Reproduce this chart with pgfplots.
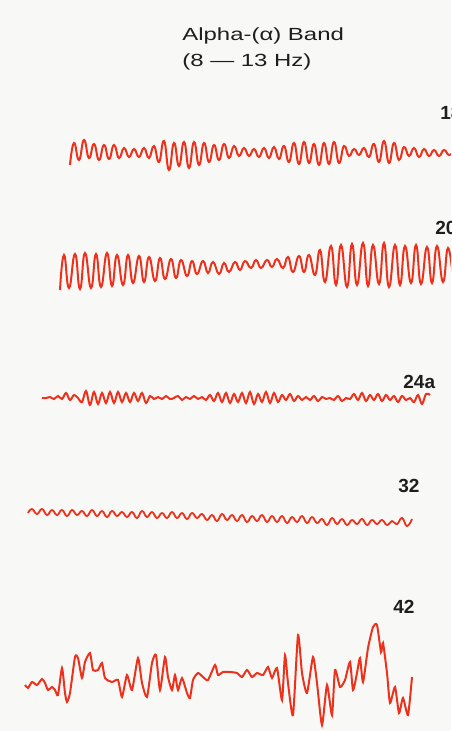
\documentclass[border=0pt]{standalone}
\usepackage{fontspec}
\setmainfont{Liberation Sans}
\usepackage{pgfplots}
\pgfplotsset{compat=1.18}
\definecolor{trace}{RGB}{236,50,28}
\definecolor{ink}{RGB}{30,30,30}
\definecolor{paper}{RGB}{248,248,246}
\begin{document}
\begin{tikzpicture}
\begin{axis}[name=ax, width=225.5pt, height=365.5pt, scale only axis,
  xmin=0, xmax=451, ymin=0, ymax=731, y dir=reverse, hide axis, clip=true]
\fill[paper] (axis cs:0,0) rectangle (axis cs:451,731);
% Trace 18
\addplot[trace, line width=1pt, smooth, tension=0.85] coordinates {
(70,165)(74,143)(79,160)(84,140)(89,158)(94,144)(99,160)(104,145)(109,159)(114,145)
(119,158)(124,148)(129,157)(134,149)(139,157)(144,148)(149,158)(154,146)(159,162)(164,141)
(169,170)(174,143)(179,166)(184,142)(189,168)(194,142)(199,165)(204,143)(209,162)(214,145)
(219,160)(224,144)(229,158)(234,146)(239,156)(244,148)(249,156)(254,149)(259,157)(264,148)
(269,158)(274,147)(279,159)(284,146)(289,162)(294,143)(299,164)(304,142)(309,163)(314,144)
(319,165)(324,143)(329,164)(334,142)(339,163)(344,146)(349,156)(354,149)(359,155)(364,148)
(369,157)(374,144)(379,162)(384,141)(389,163)(394,143)(399,160)(404,147)(409,156)(414,148)
(419,157)(424,149)(429,156)(434,150)(439,156)(444,150)(449,155)(454,151)};
% Trace 20
\addplot[trace, line width=1pt, smooth, tension=0.85] coordinates {
(60,290)(64,255)(69,288)(75,254)(80,289)(85,253)(91,288)(96,254)(101,287)(107,253)
(112,286)(117,255)(123,285)(128,255)(133,283)(139,256)(144,282)(149,257)(155,281)(160,258)
(165,279)(171,259)(176,278)(181,260)(187,276)(192,261)(197,274)(203,261)(208,273)(213,262)
(219,274)(224,263)(229,272)(235,262)(240,270)(245,261)(251,268)(256,260)(261,268)(267,260)
(272,267)(277,259)(283,268)(288,257)(293,272)(299,256)(304,272)(309,255)(315,275)(320,250)
(325,282)(331,246)(336,285)(341,245)(347,287)(352,244)(357,285)(363,243)(368,286)(373,245)
(379,284)(384,243)(389,287)(395,245)(400,285)(405,246)(411,283)(416,245)(421,284)(427,247)
(432,283)(437,246)(443,282)(448,248)(453,280)};
% Trace 24a
\addplot[trace, line width=1pt, smooth, tension=0.6] coordinates {
(42,398)(46,398)(50,397)(54,399)(58,396)(62,399)(66,393)(70,400)(74,395)(78,398)
(82,402)(86,391)(90,405)(94,392)(98,404)(102,393)(106,403)(110,392)(114,403)(118,392)
(122,402)(126,393)(130,402)(134,393)(138,401)(142,393)(146,403)(150,396)(154,399)(158,397)
(162,399)(166,396)(170,399)(174,398)(178,396)(182,400)(186,397)(190,399)(194,396)(198,399)
(202,397)(206,400)(210,395)(214,401)(218,393)(222,402)(226,393)(230,403)(234,394)(238,402)
(242,393)(246,403)(250,392)(254,404)(258,394)(262,402)(266,392)(270,403)(274,393)(278,402)
(282,395)(286,400)(290,394)(294,401)(298,396)(302,400)(306,397)(310,400)(314,396)(318,401)
(322,397)(326,399)(330,398)(334,400)(338,396)(342,401)(346,398)(350,399)(354,394)(358,400)
(362,393)(366,401)(370,395)(374,400)(378,394)(382,401)(386,395)(390,400)(394,396)(398,402)
(402,396)(406,400)(410,398)(414,402)(418,395)(422,404)(426,394)(430,395)};
% Trace 32
\addplot[trace, line width=0.9pt, smooth, tension=0.8] coordinates {
(28,513)(32,509)(37,514)(42,509)(47,515)(52,510)(57,515)(62,510)(67,516)(72,510)
(77,515)(82,511)(87,516)(92,510)(97,516)(102,511)(107,517)(112,511)(117,516)(122,512)
(127,517)(132,512)(137,518)(142,511)(147,517)(152,512)(157,518)(162,513)(167,518)(172,512)
(177,518)(182,513)(187,519)(192,513)(197,518)(202,514)(207,520)(212,515)(217,521)(222,514)
(227,520)(232,515)(237,521)(242,515)(247,522)(252,516)(257,521)(262,515)(267,522)(272,516)
(277,522)(282,516)(287,523)(292,517)(297,522)(302,516)(307,523)(312,517)(317,523)(322,519)
(327,525)(332,518)(337,524)(342,519)(347,525)(352,520)(357,524)(362,519)(367,525)(372,520)
(377,524)(382,520)(387,525)(392,521)(397,524)(402,518)(407,526)(412,519)};
% Trace 42
\addplot[trace, line width=1pt, smooth, tension=0.35] coordinates {
(25,685)(28,688)(32,682)(37,685)(42,679)(45,683)(48,690)(52,687)(55,690)(58,695)
(62,668)(65,693)(67,702)(70,693)(75,657)(78,658)(82,678)(85,662)(90,653)(93,670)
(98,670)(102,663)(105,678)(112,682)(118,680)(122,697)(127,675)(132,690)(138,658)(142,683)
(147,697)(152,663)(156,655)(160,690)(165,657)(168,677)(172,690)(175,675)(178,690)(182,678)
(187,693)(190,698)(193,680)(198,673)(203,677)(208,680)(215,665)(218,675)(223,672)(230,672)
(237,673)(242,677)(247,670)(252,677)(257,673)(263,675)(268,667)(272,678)(277,668)(282,700)
(285,655)(288,683)(293,715)(298,635)(302,673)(307,693)(313,657)(317,683)(322,725)(327,685)
(332,715)(335,670)(340,687)(345,680)(350,662)(353,690)(357,673)(360,658)(363,682)(368,648)
(373,627)(377,625)(381,652)(383,643)(387,673)(390,703)(395,687)(399,713)(403,698)(408,715)
(412,677)};
% Labels
\node[anchor=base west, text=ink, font=\fontsize{8.8pt}{10pt}\selectfont\addfontfeature{FakeStretch=1.36}, inner sep=0pt] at (axis cs:182,41) {Alpha-(α) Band};
\node[anchor=base west, text=ink, font=\fontsize{8.8pt}{10pt}\selectfont\addfontfeature{FakeStretch=1.36}, inner sep=0pt] at (axis cs:182,67) {(8 — 13 Hz)};
\node[anchor=base west, text=ink, font=\fontsize{9.5pt}{11pt}\selectfont\bfseries, inner sep=0pt] at (axis cs:440,120) {18};
\node[anchor=base west, text=ink, font=\fontsize{9.5pt}{11pt}\selectfont\bfseries, inner sep=0pt] at (axis cs:435,235) {20};
\node[anchor=base west, text=ink, font=\fontsize{9.5pt}{11pt}\selectfont\bfseries, inner sep=0pt] at (axis cs:403,388) {24a};
\node[anchor=base west, text=ink, font=\fontsize{9.5pt}{11pt}\selectfont\bfseries, inner sep=0pt] at (axis cs:398,492) {32};
\node[anchor=base west, text=ink, font=\fontsize{9.5pt}{11pt}\selectfont\bfseries, inner sep=0pt] at (axis cs:393,613) {42};
\end{axis}
\pgfresetboundingbox
\path (ax.south west) rectangle (ax.north east);
\end{tikzpicture}
\end{document}
